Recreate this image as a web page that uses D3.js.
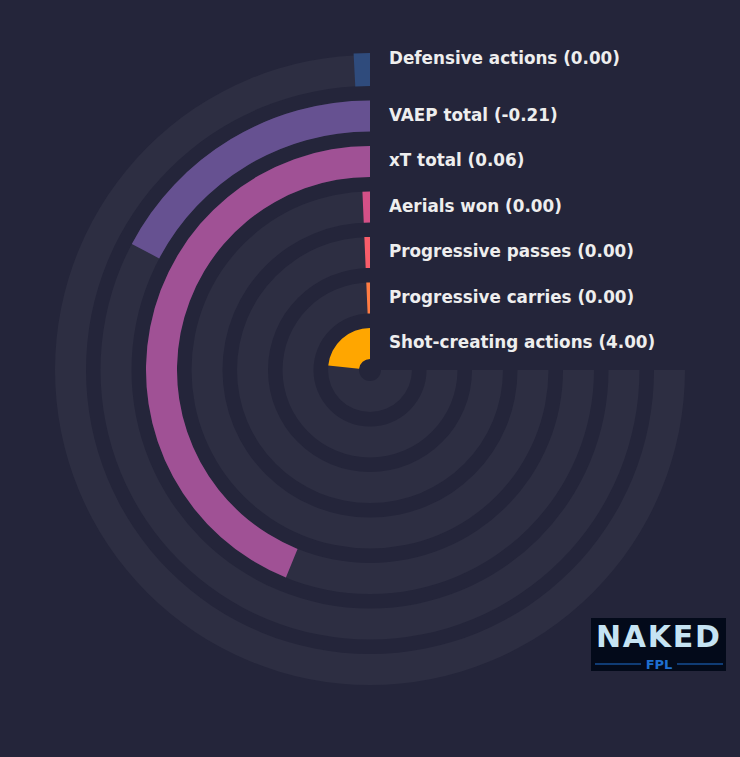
<!DOCTYPE html>
<html><head><meta charset="utf-8">
<script src="https://cdn.jsdelivr.net/npm/d3@7"></script>
<style>body{margin:0;background:#24253a}</style>
</head><body>
<svg id="c" width="740" height="757"></svg>
<script>
// metrics from outer ring to inner
var labels = ['Defensive actions (0.00)', 'VAEP total (-0.21)', 'xT total (0.06)', 'Aerials won (0.00)',
  'Progressive passes (0.00)', 'Progressive carries (0.00)', 'Shot-creating actions (4.00)'];
// share of the 270° track filled
var fill = [0.011, 0.23, 0.585, 0.009, 0.009, 0.009, 0.31];
var colors = ['#2f4b7c', '#665191', '#a05195', '#d45087', '#f95d6a', '#ff7c43', '#ffa600'];

var cx = 370, cy = 370, band = 31, step = 45.5, outer = 315;
var svg = d3.select('#c');
var g = svg.append('g').attr('transform', `translate(${cx},${cy})`);
var angle = d3.scaleLinear().domain([0, 1]).range([0, Math.PI * 1.5]);
var arc = d3.arc();

labels.forEach(function(l, i) {
  var ro = outer - i * step, ri = ro - band;
  g.append('path').attr('fill', '#2d2e42')
    .attr('d', arc({innerRadius: ri, outerRadius: ro, startAngle: Math.PI / 2, endAngle: Math.PI * 2}));
  g.append('path').attr('fill', colors[i])
    .attr('d', arc({innerRadius: ri, outerRadius: ro + (i === 0 ? 2 : 0), startAngle: Math.PI * 2 - angle(fill[i]), endAngle: Math.PI * 2}));
  g.append('text').attr('x', 19).attr('y', i === 0 ? -312 : -(ro - band / 2) - 1).attr('dy', '0.35em')
    .attr('fill', '#eeeeee').attr('font-family', 'DejaVu Sans').attr('font-weight', 'bold')
    .attr('font-size', 16.8).text(l);
});

// logo
var logo = svg.append('g').attr('transform', 'translate(591,618)');
logo.append('rect').attr('width', 135).attr('height', 53).attr('fill', '#030a1a');
logo.append('text').attr('x', 67).attr('y', 29).attr('text-anchor', 'middle')
  .attr('font-family', 'DejaVu Sans').attr('font-weight', 'bold').attr('font-size', 30)
  .attr('fill', '#c5e3f3').attr('textLength', 124).text('NAKED');
logo.append('line').attr('x1', 4).attr('x2', 50).attr('y1', 46).attr('y2', 46).attr('stroke', '#1f6fd0');
logo.append('line').attr('x1', 86).attr('x2', 132).attr('y1', 46).attr('y2', 46).attr('stroke', '#1f6fd0');
logo.append('text').attr('x', 68).attr('y', 51).attr('text-anchor', 'middle')
  .attr('font-family', 'DejaVu Sans').attr('font-weight', 'bold').attr('font-size', 13)
  .attr('fill', '#1f6fd0').text('FPL');
</script>
</body></html>
